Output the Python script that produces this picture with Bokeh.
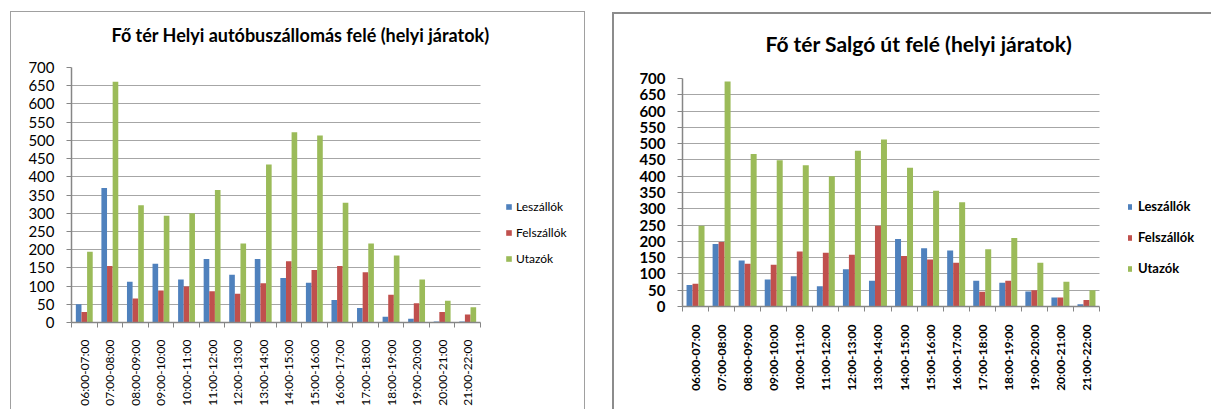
import math
from bokeh.plotting import figure
from bokeh.models import Range1d, FixedTicker
from bokeh.layouts import row, column
from bokeh.embed import file_html
from bokeh.resources import INLINE

categories = ["06:00-07:00", "07:00-08:00", "08:00-09:00", "09:00-10:00",
              "10:00-11:00", "11:00-12:00", "12:00-13:00", "13:00-14:00",
              "14:00-15:00", "15:00-16:00", "16:00-17:00", "17:00-18:00",
              "18:00-19:00", "19:00-20:00", "20:00-21:00", "21:00-22:00"]
series_names = ["Leszállók", "Felszállók", "Utazók"]
series_colors = ["#4F81BD", "#C0504D", "#9BBB59"]
y_ticks = [0, 50, 100, 150, 200, 250, 300, 350, 400, 450, 500, 550, 600, 650, 700]

left_title = "Fő tér Helyi autóbuszállomás felé (helyi járatok)"
left_leszallok = [50, 369, 112, 161, 118, 174, 131, 174, 122, 109, 62, 40, 16, 10, 3, 3]
left_felszallok = [29, 155, 66, 88, 99, 86, 79, 108, 168, 144, 155, 138, 76, 53, 29, 22]
left_utazok = [194, 661, 322, 293, 300, 364, 217, 434, 522, 513, 329, 217, 184, 118, 60, 42]

right_title = "Fő tér Salgó út felé (helyi járatok)"
right_leszallok = [66, 192, 141, 83, 93, 62, 114, 79, 207, 179, 172, 79, 73, 46, 28, 7]
right_felszallok = [70, 198, 131, 128, 169, 165, 159, 248, 155, 144, 134, 45, 79, 50, 28, 20]
right_utazok = [248, 691, 468, 449, 434, 400, 478, 513, 426, 355, 320, 176, 210, 134, 76, 50]

FONT = "Lato"
AXIS_GRAY = "#868686"
GRID_GRAY = "#a6a6a6"
TOP_PANEL = 74
BOTTOM_PANEL = 87


def build(title, series, cfg):
    n = len(categories)
    plot_w = cfg["w"] - cfg["bl"] - 5           # frame width in px
    x_end = n * plot_w / cfg["cat_px"]          # categories span cat_px pixels
    p = figure(width=cfg["w"], height=cfg["h"], output_backend="svg",
               toolbar_location=None,
               x_range=Range1d(0, x_end), y_range=Range1d(0, 700),
               min_border_left=cfg["bl"], min_border_right=5,
               min_border_top=TOP_PANEL, min_border_bottom=BOTTOM_PANEL,
               margin=cfg["margin"])
    p.outline_line_color = None
    p.background_fill_color = "white"
    p.border_fill_color = None

    centers = [i + 0.5 for i in range(n)]
    bw = cfg["bar"]
    for k, (vals, name, color) in enumerate(zip(series, series_names, series_colors)):
        xs = [c + (k - 1) * bw for c in centers]
        p.vbar(x=xs, top=vals, width=bw, bottom=0, fill_color=color,
               line_color=None, legend_label=name)

    # x axis
    xa = p.xaxis[0]
    xa.ticker = FixedTicker(ticks=centers, minor_ticks=list(range(n + 1)))
    xa.bounds = (0, n)
    xa.major_label_overrides = {c: cat for c, cat in zip(centers, categories)}
    xa.major_label_orientation = math.pi / 2
    xa.major_tick_out = 0
    xa.major_tick_in = 0
    xa.minor_tick_out = 5
    xa.minor_tick_in = 0
    xa.minor_tick_line_color = AXIS_GRAY
    xa.axis_line_color = AXIS_GRAY
    xa.axis_line_width = 1.5
    xa.major_label_standoff = cfg["xstand"]
    xa.major_label_text_font = FONT
    xa.major_label_text_font_size = cfg["xfs"]
    xa.major_label_text_font_style = cfg["xstyle"]
    xa.major_label_text_color = "black"

    # y axis
    ya = p.yaxis[0]
    ya.ticker = FixedTicker(ticks=y_ticks)
    ya.major_tick_out = 5
    ya.major_tick_in = 0
    ya.minor_tick_out = 0
    ya.minor_tick_in = 0
    ya.major_tick_line_color = AXIS_GRAY
    ya.axis_line_color = AXIS_GRAY
    ya.axis_line_width = 1.5
    ya.major_label_standoff = cfg["ystand"]
    ya.major_label_text_font = FONT
    ya.major_label_text_font_size = cfg["yfs"]
    ya.major_label_text_font_style = cfg["ystyle"]
    ya.major_label_text_color = "black"

    p.xgrid.visible = False
    p.ygrid.grid_line_color = GRID_GRAY
    p.ygrid.grid_line_width = 1.2
    p.ygrid.cross_bounds = (0, n)

    # title
    p.title.text = title
    p.title.align = "left"
    p.title.offset = cfg["toff"]
    p.title.standoff = cfg["tstand"]
    p.title.text_font = FONT
    p.title.text_font_size = cfg["tfs"]
    p.title.text_font_style = "bold"
    p.title.text_color = "black"

    # legend (inside the widened frame, right of the categories)
    lg = p.legend[0]
    lg.location = cfg["lloc"]
    lg.orientation = "vertical"
    lg.border_line_color = None
    lg.background_fill_alpha = 0
    lg.padding = 0
    lg.margin = 0
    lg.spacing = cfg["lspace"]
    lg.glyph_width = cfg["gw"]
    lg.glyph_height = 7
    lg.label_height = cfg["lh"]
    lg.label_standoff = cfg["lstand"]
    lg.label_text_font = FONT
    lg.label_text_font_size = cfg["lfs"]
    lg.label_text_font_style = cfg["lstyle"]
    lg.label_text_color = "black"
    return p


left_cfg = dict(w=573, h=416, bl=60, cat_px=409, margin=(-19, 0, 0, 0), bar=0.22,
                xstand=12, xfs="12px", xstyle="normal",
                ystand=12, yfs="15px", ystyle="normal",
                toff=40, tstand=44, tfs="18px",
                lloc=(434, 56), lspace=11, gw=7, lh=12, lstand=4,
                lfs="12px", lstyle="normal")
right_cfg = dict(w=597, h=389, bl=68, cat_px=417, margin=(-10, 0, 16, 0), bar=0.23,
                 xstand=13, xfs="12px", xstyle="bold",
                 ystand=12, yfs="15px", ystyle="bold",
                 toff=83, tstand=46, tfs="21px",
                 lloc=(445, 30), lspace=15, gw=5, lh=13, lstand=6,
                 lfs="13px", lstyle="bold")

p_left = build(left_title, [left_leszallok, left_felszallok, left_utazok], left_cfg)
p_right = build(right_title, [right_leszallok, right_felszallok, right_utazok], right_cfg)

left_box = column(p_left, margin=(12, 0, 0, 11),
                  styles={"box-shadow": ("-1px 0 0 #a0a0a0, 1px 0 0 #a0a0a0, "
                                         "0 -1px 0 #a0a0a0, -1px -1px 0 #a0a0a0, "
                                         "1px -1px 0 #a0a0a0")})
right_box = column(p_right, margin=(14, 0, 0, 30),
                   styles={"box-shadow": ("-2px 0 0 #8c8c8c, 0 -2px 0 #8c8c8c, "
                                          "-2px -2px 0 #8c8c8c")})

layout = row(left_box, right_box)
open("out.html", "w").write(file_html(layout, INLINE))
